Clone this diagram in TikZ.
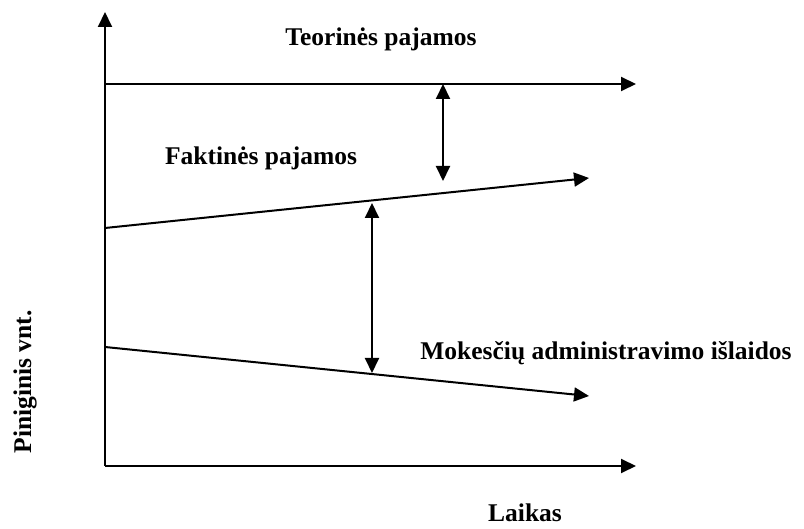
\documentclass[tikz,border=0pt]{standalone}
\usepackage{fontspec}
\setmainfont{Liberation Serif}
\usetikzlibrary{arrows.meta}
\begin{document}
\begin{tikzpicture}[x=1pt,y=-1pt,
  line/.style={line width=2pt,-{Triangle[length=15pt,width=14pt]}},
  dbl/.style={line width=2pt,{Triangle[length=15pt,width=14pt]}-{Triangle[length=15pt,width=14pt]}},
  lbl/.style={font=\fontsize{25.5}{29}\selectfont\bfseries,inner sep=0pt}]
\useasboundingbox (0,0) rectangle (804,529);
% axes
\coordinate (o) at (105,466);
\coordinate (ytip) at (105,12);
\coordinate (xtip) at (636,466);
\draw[line] (o) -- (ytip);
\draw[line] (o) -- (xtip);
% theoretical revenue
\coordinate (t0) at (105,84);
\coordinate (t1) at (636,84);
\draw[line] (t0) -- (t1);
% actual revenue
\coordinate (f0) at (105,228);
\coordinate (f1) at (589,178);
\draw[line] (f0) -- (f1);
% administration costs
\coordinate (m0) at (105,347);
\coordinate (m1) at (589,396);
\draw[line] (m0) -- (m1);
% gaps
\coordinate (g1a) at (443,84);
\coordinate (g1b) at (443,181);
\draw[dbl] (g1a) -- (g1b);
\coordinate (g2a) at (372,203);
\coordinate (g2b) at (372,373);
\draw[dbl] (g2a) -- (g2b);
% labels
\node[lbl] (teor) at (381,39) {Teorinės pajamos};
\node[lbl] (fakt) at (261,158) {Faktinės pajamos};
\node[lbl] (mok) at (606,353) {Mokesčių administravimo išlaidos};
\node[lbl,anchor=base] (laik) at (525,521) {Laikas};
\node[lbl,rotate=90] (pin) at (25,382) {Piniginis vnt.};
\end{tikzpicture}
\end{document}
